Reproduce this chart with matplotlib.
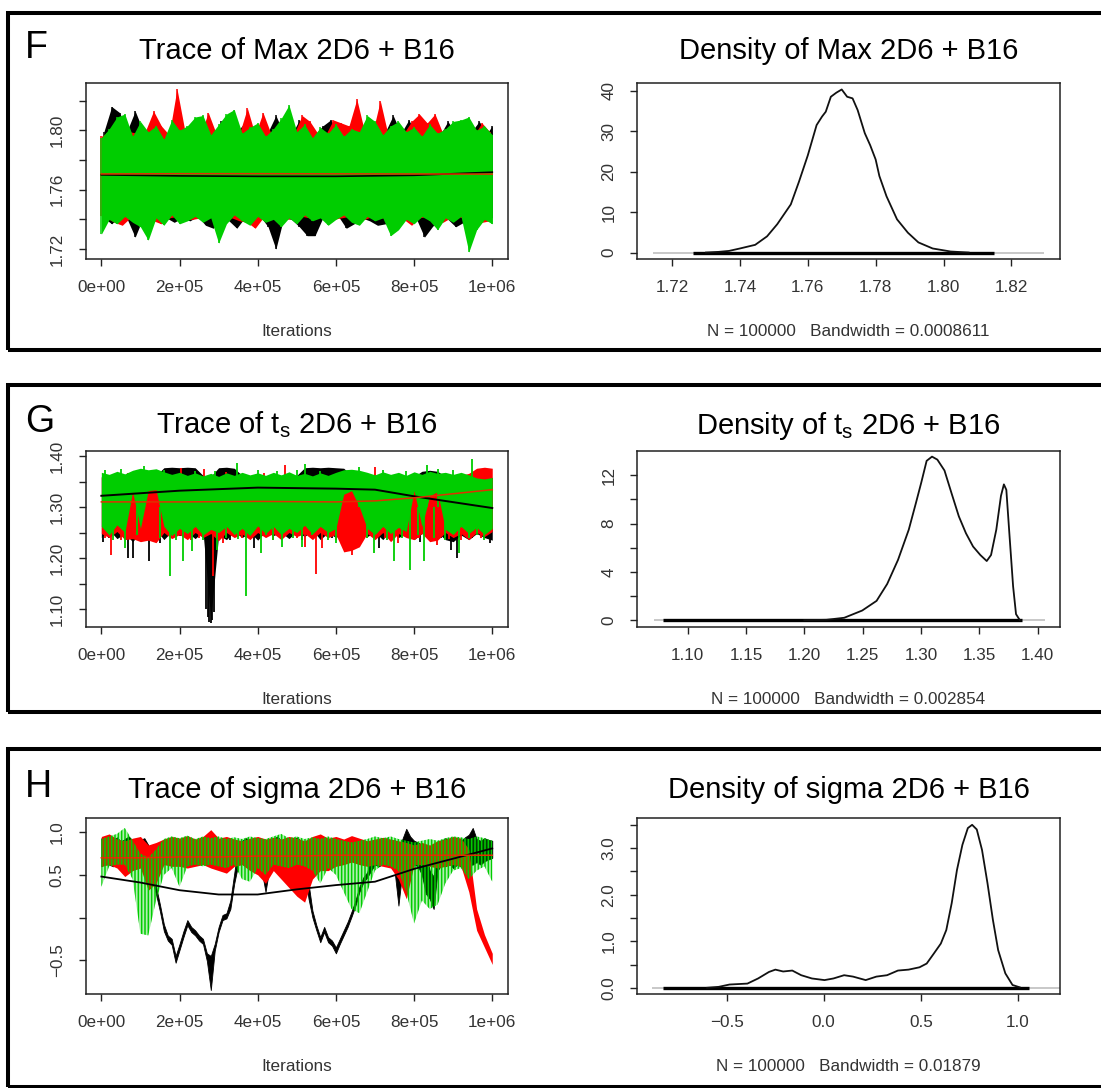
import numpy as np
import matplotlib
matplotlib.use("Agg")
import matplotlib.pyplot as plt
from matplotlib.patches import Rectangle

plt.rcParams["font.family"] = ["Liberation Sans", "DejaVu Sans"]
plt.rcParams["mathtext.fontset"] = "custom"
plt.rcParams["mathtext.rm"] = "Liberation Sans"
plt.rcParams["hatch.linewidth"] = 1.1

# ---------------------------------------------------------------- data
CHAIN_COLORS = ["#000000", "#ff0000", "#00cd00"]   # chains 1, 2, 3

# thinning grids (iterations) used for the chain envelopes
iters20 = np.arange(0, 1_000_001, 20_000)
iters10 = np.arange(0, 1_000_001, 10_000)
iters100 = np.arange(0, 1_000_001, 100_000)

# --- F: Max 2D6 + B16, per-chain extremes within each 20k window
f_black_hi = [1.799, 1.816, 1.812, 1.800, 1.813, 1.800, 1.797, 1.799, 1.796, 1.798,
              1.797, 1.799, 1.796, 1.798, 1.797, 1.806, 1.797, 1.799, 1.805, 1.798,
              1.797, 1.799, 1.810, 1.798, 1.797, 1.807, 1.799, 1.797, 1.803, 1.807,
              1.799, 1.798, 1.797, 1.799, 1.798, 1.797, 1.799, 1.810, 1.798, 1.807,
              1.797, 1.799, 1.798, 1.797, 1.806, 1.798, 1.797, 1.799, 1.806, 1.798, 1.803]
f_black_lo = [1.741, 1.737, 1.742, 1.740, 1.728, 1.741, 1.740, 1.742, 1.741, 1.738,
              1.741, 1.739, 1.742, 1.736, 1.734, 1.741, 1.739, 1.734, 1.741, 1.740,
              1.742, 1.735, 1.720, 1.741, 1.740, 1.735, 1.729, 1.729, 1.741, 1.740,
              1.742, 1.734, 1.737, 1.741, 1.739, 1.736, 1.737, 1.741, 1.740, 1.742,
              1.740, 1.728, 1.735, 1.741, 1.740, 1.735, 1.738, 1.741, 1.740, 1.742, 1.741]
f_red_hi = [1.796, 1.798, 1.800, 1.797, 1.799, 1.798, 1.800, 1.813, 1.803, 1.797,
            1.828, 1.800, 1.798, 1.797, 1.812, 1.798, 1.797, 1.799, 1.798, 1.815,
            1.797, 1.812, 1.798, 1.799, 1.797, 1.798, 1.810, 1.806, 1.798, 1.797,
            1.807, 1.805, 1.803, 1.821, 1.799, 1.798, 1.820, 1.797, 1.799, 1.798,
            1.806, 1.811, 1.805, 1.811, 1.798, 1.797, 1.799, 1.798, 1.797, 1.805, 1.799]
f_red_lo = [1.742, 1.741, 1.738, 1.736, 1.741, 1.742, 1.740, 1.739, 1.737, 1.741,
            1.742, 1.740, 1.740, 1.741, 1.742, 1.741, 1.738, 1.741, 1.739, 1.738,
            1.734, 1.741, 1.742, 1.740, 1.740, 1.741, 1.742, 1.741, 1.742, 1.741,
            1.740, 1.741, 1.742, 1.741, 1.740, 1.742, 1.741, 1.741, 1.742, 1.740,
            1.736, 1.741, 1.742, 1.741, 1.738, 1.741, 1.742, 1.740, 1.741, 1.738, 1.739]
f_green_hi = [1.795, 1.801, 1.809, 1.811, 1.796, 1.806, 1.799, 1.803, 1.794, 1.807,
              1.800, 1.803, 1.809, 1.810, 1.797, 1.804, 1.811, 1.814, 1.798, 1.802,
              1.805, 1.796, 1.801, 1.808, 1.817, 1.799, 1.804, 1.795, 1.802, 1.798,
              1.804, 1.796, 1.801, 1.799, 1.810, 1.806, 1.797, 1.803, 1.806, 1.799,
              1.802, 1.796, 1.804, 1.798, 1.801, 1.806, 1.807, 1.809, 1.800, 1.803, 1.797]
f_green_lo = [1.730, 1.740, 1.737, 1.742, 1.738, 1.735, 1.726, 1.741, 1.736, 1.743,
              1.737, 1.739, 1.742, 1.738, 1.741, 1.724, 1.737, 1.743, 1.739, 1.736,
              1.742, 1.738, 1.740, 1.735, 1.741, 1.737, 1.743, 1.739, 1.741, 1.736,
              1.740, 1.743, 1.738, 1.736, 1.742, 1.739, 1.741, 1.729, 1.733, 1.740,
              1.737, 1.742, 1.739, 1.733, 1.741, 1.738, 1.742, 1.718, 1.733, 1.740, 1.737]
# lowess smooths (chains 1 and 2) at 200k steps
f_smooth_x = [0, 200_000, 400_000, 600_000, 800_000, 1_000_000]
f_smooth_black = [1.7700, 1.7693, 1.7690, 1.7690, 1.7697, 1.7718]
f_smooth_red = [1.7706, 1.7708, 1.7708, 1.7707, 1.7706, 1.7705]

# --- G: t_s 2D6 + B16, body of each chain (20k windows) plus isolated excursions
g_black_top = [1.360, 1.362, 1.358, 1.360, 1.362, 1.360, 1.358, 1.362, 1.377, 1.378,
               1.377, 1.378, 1.377, 1.362, 1.360, 1.377, 1.378, 1.376, 1.362, 1.360,
               1.362, 1.358, 1.360, 1.362, 1.360, 1.362, 1.377, 1.378, 1.377, 1.378,
               1.377, 1.376, 1.362, 1.360, 1.358, 1.362, 1.360, 1.358, 1.360, 1.362,
               1.360, 1.370, 1.372, 1.370, 1.360, 1.358, 1.360, 1.362, 1.358, 1.360, 1.358]
g_black_bot = [1.240, 1.255, 1.238, 1.248, 1.232, 1.250, 1.242, 1.255, 1.236, 1.252,
               1.244, 1.250, 1.238, 1.252, 1.080, 1.245, 1.236, 1.252, 1.240, 1.250,
               1.235, 1.252, 1.244, 1.250, 1.238, 1.252, 1.242, 1.255, 1.236, 1.250,
               1.240, 1.250, 1.236, 1.255, 1.242, 1.250, 1.236, 1.255, 1.240, 1.248,
               1.236, 1.248, 1.242, 1.250, 1.236, 1.232, 1.245, 1.236, 1.248, 1.240, 1.235]
g_red_top = [1.358, 1.360, 1.356, 1.358, 1.350, 1.352, 1.350, 1.350, 1.358, 1.360,
             1.356, 1.358, 1.360, 1.358, 1.356, 1.360, 1.358, 1.356, 1.358, 1.360,
             1.358, 1.356, 1.358, 1.360, 1.358, 1.356, 1.358, 1.360, 1.358, 1.356,
             1.358, 1.345, 1.340, 1.345, 1.358, 1.360, 1.356, 1.358, 1.360, 1.358,
             1.345, 1.356, 1.345, 1.350, 1.358, 1.360, 1.362, 1.366, 1.376, 1.378, 1.376]
g_red_bot = [1.248, 1.240, 1.252, 1.236, 1.238, 1.232, 1.235, 1.230, 1.250, 1.238,
             1.246, 1.236, 1.250, 1.240, 1.248, 1.234, 1.250, 1.240, 1.247, 1.236,
             1.250, 1.240, 1.248, 1.236, 1.250, 1.242, 1.248, 1.236, 1.250, 1.240,
             1.246, 1.212, 1.215, 1.222, 1.248, 1.236, 1.250, 1.232, 1.248, 1.240,
             1.236, 1.248, 1.232, 1.235, 1.250, 1.240, 1.248, 1.236, 1.250, 1.242, 1.252]
g_green_top = [1.368, 1.364, 1.370, 1.365, 1.372, 1.376, 1.373, 1.375, 1.369, 1.364,
               1.368, 1.362, 1.367, 1.361, 1.366, 1.360, 1.367, 1.362, 1.368, 1.363,
               1.367, 1.362, 1.368, 1.363, 1.369, 1.362, 1.366, 1.361, 1.367, 1.362,
               1.368, 1.373, 1.374, 1.372, 1.368, 1.363, 1.369, 1.364, 1.368, 1.362,
               1.369, 1.364, 1.370, 1.366, 1.368, 1.364, 1.368, 1.363, 1.357, 1.355, 1.358]
g_green_bot = [1.262, 1.245, 1.265, 1.250, 1.330, 1.258, 1.332, 1.334, 1.262, 1.244,
               1.258, 1.248, 1.262, 1.245, 1.256, 1.250, 1.262, 1.246, 1.258, 1.244,
               1.263, 1.248, 1.262, 1.246, 1.258, 1.250, 1.264, 1.247, 1.262, 1.250,
               1.258, 1.325, 1.332, 1.300, 1.258, 1.246, 1.262, 1.248, 1.260, 1.252,
               1.332, 1.262, 1.322, 1.330, 1.256, 1.246, 1.262, 1.248, 1.260, 1.246, 1.258]
g_black_spk_x = [3e3, 20e3, 67e3, 80e3, 112e3, 123e3, 150e3, 268e3, 272e3, 276e3, 280e3,
                 284e3, 288e3, 330e3, 390e3, 475e3, 513e3, 590e3, 710e3, 760e3, 815e3,
                 870e3, 895e3, 910e3, 948e3, 995e3]
g_black_spk_y = [1.232, 1.240, 1.200, 1.200, 1.240, 1.194, 1.230, 1.100, 1.085, 1.075, 1.072,
                 1.078, 1.095, 1.235, 1.220, 1.245, 1.235, 1.240, 1.220, 1.245, 1.232,
                 1.240, 1.215, 1.200, 1.240, 1.229]
g_red_spk_x = [10e3, 25e3, 37e3, 50e3, 67e3, 180e3, 203e3, 230e3, 250e3, 263e3, 285e3,
               310e3, 318e3, 360e3, 416e3, 440e3, 470e3, 500e3, 522e3, 548e3, 565e3,
               600e3, 641e3, 680e3, 701e3, 726e3, 760e3, 812e3, 858e3, 889e3, 920e3, 970e3]
g_red_spk_y = [1.240, 1.206, 1.367, 1.235, 1.366, 1.240, 1.376, 1.235, 1.240, 1.375, 1.164,
               1.230, 1.368, 1.240, 1.366, 1.235, 1.382, 1.240, 1.222, 1.168, 1.220,
               1.235, 1.206, 1.240, 1.378, 1.240, 1.230, 1.240, 1.225, 1.238, 1.235, 1.240]
g_green_spk_x = [10e3, 30e3, 50e3, 60e3, 90e3, 110e3, 150e3, 160e3, 176e3, 190e3, 210e3,
                 233e3, 240e3, 260e3, 290e3, 297e3, 320e3, 347e3, 350e3, 370e3, 400e3,
                 408e3, 420e3, 440e3, 450e3, 462e3, 490e3, 500e3, 513e3, 522e3, 540e3,
                 560e3, 580e3, 600e3, 660e3, 680e3, 697e3, 720e3, 730e3, 748e3, 770e3,
                 780e3, 790e3, 810e3, 825e3, 833e3, 850e3, 860e3, 880e3, 900e3, 914e3,
                 940e3, 948e3, 960e3, 980e3]
g_green_spk_y = [1.372, 1.235, 1.374, 1.220, 1.245, 1.380, 1.240, 1.372, 1.164, 1.235, 1.194,
                 1.213, 1.370, 1.235, 1.371, 1.215, 1.240, 1.387, 1.238, 1.125, 1.372,
                 1.210, 1.245, 1.235, 1.370, 1.222, 1.240, 1.373, 1.222, 1.385, 1.245,
                 1.371, 1.235, 1.230, 1.378, 1.240, 1.210, 1.372, 1.235, 1.195, 1.240,
                 1.371, 1.177, 1.245, 1.195, 1.382, 1.240, 1.374, 1.235, 1.372, 1.210,
                 1.240, 1.395, 1.245, 1.235]
g_smooth_x = [0, 200_000, 400_000, 600_000, 700_000, 800_000, 1_000_000]
g_smooth_black = [1.322, 1.332, 1.338, 1.336, 1.334, 1.321, 1.298]
g_smooth_red = [1.310, 1.310, 1.311, 1.310, 1.312, 1.318, 1.334]

# --- H: sigma 2D6 + B16
h_black_top = [0.93, 0.88, 0.92, 0.90, 0.94, 0.89, 0.92, 0.95, 0.90, 0.88,
               0.91, 0.93, 0.85, 0.75, 0.36, 0.15, -0.08, -0.21, -0.25, -0.45,
               -0.31, -0.16, -0.03, -0.11, -0.15, -0.21, -0.25, -0.42, -0.45, -0.31,
               -0.11, 0.03, 0.05, 0.20, 0.52, 0.85, 0.90, 0.93, 0.91, 0.89,
               0.92, 0.86, 0.80, 0.88, 0.92, 0.95, 0.90, 0.88, 0.93, 0.91,
               0.94, 0.90, 0.88, 0.40, 0.08, -0.09, -0.23, -0.11, -0.23, -0.27,
               -0.35, -0.25, -0.15, -0.05, 0.07, 0.20, 0.36, 0.47, 0.53, 0.70,
               0.88, 0.92, 0.90, 0.93, 0.89, 0.91, 0.80, 0.92, 1.04, 0.95,
               0.90, 0.88, 0.85, 0.75, 0.55, 0.48, 0.80, 0.90, 0.93, 0.91,
               0.88, 0.92, 0.90, 0.94, 0.97, 1.05, 0.92, 0.90, 0.93, 0.91, 0.90]
h_black_bot = [0.60, 0.63, 0.62, 0.60, 0.64, 0.62, 0.60, 0.63, 0.62, 0.60,
               0.63, 0.60, 0.58, 0.45, 0.27, 0.07, -0.16, -0.27, -0.32, -0.53,
               -0.38, -0.23, -0.09, -0.17, -0.21, -0.27, -0.31, -0.51, -0.85, -0.39,
               -0.17, -0.03, -0.01, 0.10, 0.40, 0.62, 0.63, 0.60, 0.62, 0.60,
               0.63, 0.55, 0.30, 0.58, 0.62, 0.63, 0.60, 0.50, 0.62, 0.60,
               0.63, 0.62, 0.55, 0.22, 0.00, -0.15, -0.29, -0.17, -0.29, -0.33,
               -0.42, -0.31, -0.21, -0.11, 0.01, 0.14, 0.30, 0.41, 0.47, 0.55,
               0.62, 0.60, 0.63, 0.62, 0.60, 0.55, 0.14, 0.55, 0.70, 0.65,
               0.62, 0.60, 0.50, 0.28, 0.22, 0.10, 0.55, 0.62, 0.60, 0.63,
               0.58, 0.62, 0.60, 0.63, 0.62, 0.62, 0.65, 0.62, 0.66, 0.68, 0.70]
h_red_top = [0.95, 0.98, 0.92, 0.90, 0.93, 0.95, 0.85, 0.88, 0.92, 0.95,
             0.93, 0.96, 0.92, 0.95, 1.03, 0.93, 0.95, 0.92, 0.90, 0.93,
             0.95, 0.92, 0.94, 0.92, 0.95, 0.93, 0.90, 0.95, 0.98, 0.93,
             0.95, 0.92, 0.96, 0.93, 0.90, 0.92, 0.94, 0.92, 0.90, 0.88,
             0.85, 0.88, 0.85, 0.90, 0.92, 0.95, 0.93, 0.80, 0.10, -0.20, -0.42]
h_red_bot = [0.60, 0.62, 0.58, 0.48, 0.55, 0.58, 0.32, 0.40, 0.62, 0.60,
             0.60, 0.58, 0.60, 0.62, 0.58, 0.55, 0.52, 0.60, 0.62, 0.55,
             0.50, 0.40, 0.55, 0.45, 0.35, 0.25, 0.18, 0.45, 0.55, 0.55,
             0.60, 0.62, 0.65, 0.62, 0.60, 0.62, 0.60, 0.58, 0.45, 0.22,
             0.62, 0.62, 0.60, 0.58, 0.60, 0.62, 0.60, 0.30, -0.15, -0.35, -0.55]
h_green_top = [0.92, 0.95, 0.98, 1.05, 0.90, 0.75, 0.70, 0.80, 0.92, 0.95,
               0.93, 0.96, 0.92, 0.95, 0.93, 0.95, 0.92, 0.94, 0.92, 0.95,
               0.93, 0.92, 0.95, 0.98, 0.93, 0.95, 0.92, 0.94, 0.92, 0.95,
               0.92, 0.90, 0.88, 0.90, 0.92, 0.95, 0.93, 0.95, 0.92, 0.90,
               0.88, 0.90, 0.92, 0.90, 0.93, 0.95, 0.94, 0.92, 0.95, 0.93, 0.90]
h_green_bot = [0.36, 0.60, 0.62, 0.62, 0.45, -0.19, -0.21, 0.20, 0.50, 0.58,
               0.36, 0.60, 0.62, 0.60, 0.62, 0.60, 0.58, 0.62, 0.45, 0.42,
               0.58, 0.50, 0.62, 0.60, 0.58, 0.62, 0.60, 0.55, 0.40, 0.58,
               0.50, 0.30, 0.10, 0.05, 0.30, 0.55, 0.62, 0.60, 0.55, 0.30,
               -0.07, 0.20, 0.10, 0.15, 0.40, 0.55, 0.58, 0.45, 0.55, 0.60, 0.42]
h_smooth_black = [0.48, 0.41, 0.32, 0.27, 0.27, 0.33, 0.38, 0.42, 0.57, 0.69, 0.81]
h_smooth_red = [0.70, 0.70, 0.71, 0.71, 0.72, 0.72, 0.73, 0.73, 0.73, 0.73, 0.73]

# --- kernel density estimates (x, density)
f_dens_x = [1.7300, 1.7337, 1.7368, 1.7400, 1.7445, 1.7480, 1.7510, 1.7550, 1.7574, 1.7600,
            1.7626, 1.7642, 1.7653, 1.7668, 1.7684, 1.7700, 1.7716, 1.7732, 1.7747, 1.7768,
            1.7784, 1.7800, 1.7811, 1.7832, 1.7863, 1.7895, 1.7926, 1.7968, 1.8021, 1.8074]
f_dens_y = [0.0, 0.16, 0.4, 1.0, 1.9, 4.0, 7.0, 11.9, 17.5, 24.0,
            31.5, 33.6, 34.8, 38.5, 39.5, 40.3, 38.5, 38.1, 35.2, 29.5,
            26.5, 23.0, 18.9, 13.9, 8.2, 4.9, 2.5, 1.0, 0.25, 0.0]
g_dens_x = [1.2000, 1.2189, 1.2342, 1.2496, 1.2619, 1.2710, 1.2803, 1.2895, 1.2956, 1.3002,
            1.3048, 1.3094, 1.3140, 1.3201, 1.3262, 1.3324, 1.3385, 1.3446, 1.3508, 1.3563,
            1.3600, 1.3645, 1.3685, 1.3710, 1.3731, 1.3759, 1.3789, 1.3814, 1.3845]
g_dens_y = [0.0, 0.03, 0.2, 0.8, 1.6, 3.0, 5.0, 7.5, 9.7, 11.4,
            13.2, 13.55, 13.3, 12.4, 10.5, 8.6, 7.2, 6.1, 5.4, 4.9,
            5.4, 7.5, 10.3, 11.25, 10.8, 6.9, 2.8, 0.5, 0.03]
h_dens_x = [-0.600, -0.541, -0.485, -0.393, -0.338, -0.282, -0.249, -0.209, -0.162, -0.116,
            -0.061, 0.004, 0.050, 0.105, 0.151, 0.216, 0.271, 0.326, 0.382, 0.437,
            0.493, 0.530, 0.566, 0.603, 0.631, 0.659, 0.686, 0.714, 0.742, 0.764,
            0.788, 0.815, 0.843, 0.871, 0.898, 0.935, 0.972, 1.009]
h_dens_y = [0.0, 0.02, 0.07, 0.09, 0.20, 0.34, 0.39, 0.35, 0.37, 0.27,
            0.20, 0.165, 0.20, 0.27, 0.24, 0.165, 0.24, 0.27, 0.37, 0.39,
            0.44, 0.52, 0.73, 0.95, 1.24, 1.82, 2.53, 3.07, 3.43, 3.50,
            3.40, 2.96, 2.25, 1.46, 0.81, 0.31, 0.06, 0.01]
# sample range (rug) and full evaluation range of each density
f_rug, f_grid = (1.7263, 1.8149), (1.7145, 1.8295)
g_rug, g_grid = (1.0791, 1.3862), (1.0709, 1.4062)
h_rug, h_grid = (-0.826, 1.055), (-0.882, 1.216)

# ---------------------------------------------------------------- figure
W, H = 1101, 1088
fig = plt.figure(figsize=(W / 100, H / 100), dpi=100)
fig.patch.set_facecolor("white")

TXT = "#333333"
AXC = "#222222"


def ax_at(left, top, right, bottom):
    return fig.add_axes([left / W, 1 - bottom / H, (right - left) / W, (bottom - top) / H])


def text_at(x, y, s, **kw):
    fig.text(x / W, 1 - y / H, s, **kw)


def style(ax, xlim, ylim, xt, xl, yt, yl):
    ax.set_xlim(*xlim)
    ax.set_ylim(*ylim)
    ax.set_xticks(xt, xl)
    ax.set_yticks(yt, yl)
    for lab in ax.get_yticklabels():
        lab.set_rotation(90)
        lab.set_va("center")
    ax.tick_params(direction="out", length=5, width=1.0, color=AXC,
                   labelcolor=TXT, labelsize=12.3, pad=10)
    for s in ax.spines.values():
        s.set_linewidth(1.1)
        s.set_color(AXC)
        s.set_zorder(10)


TRACE_X = (85.7, 507.9)
DENS_X = (637.1, 1059.9)
ROWS = [  # axes top, axes bottom, title baseline, label baseline, footer centre
    (83.0, 259.0, 59.3, 58.0, 331.7),
    (450.7, 626.7, 433.5, 431.7, 700.0),
    (818.3, 994.3, 798.3, 796.7, 1066.7),
]
FRAMES = [(12.7, 350.0), (385.0, 711.7), (749.3, 1086.7)]
LETTERS = ["F", "G", "H"]
TRACE_TITLES = ["Trace of Max 2D6 + B16", r"Trace of $\mathregular{t_s}$ 2D6 + B16",
                "Trace of sigma 2D6 + B16"]
DENS_TITLES = ["Density of Max 2D6 + B16", r"Density of $\mathregular{t_s}$ 2D6 + B16",
               "Density of sigma 2D6 + B16"]
BANDWIDTHS = ["0.0008611", "0.002854", "0.01879"]

iter_ticks = [0, 200_000, 400_000, 600_000, 800_000, 1_000_000]
iter_labels = ["0e+00", "2e+05", "4e+05", "6e+05", "8e+05", "1e+06"]
TRACE_XLIM = (-40_000, 1_040_000)

for (top, bottom) in FRAMES:
    fig.add_artist(Rectangle((7.9 / W, 1 - bottom / H), (W + 20) / W, (bottom - top) / H,
                             transform=fig.transFigure, fill=False, lw=2.9,
                             ec="black", clip_on=False))

axes = []
for i, (top, bottom, tb, lb, fy) in enumerate(ROWS):
    at = ax_at(TRACE_X[0], top, TRACE_X[1], bottom)
    ad = ax_at(DENS_X[0], top, DENS_X[1], bottom)
    axes.append((at, ad))
    text_at(25, lb, LETTERS[i], fontsize=27, ha="left", va="baseline", color="black")
    text_at(sum(TRACE_X) / 2, tb, TRACE_TITLES[i], fontsize=21, ha="center",
            va="baseline", color="black")
    text_at(sum(DENS_X) / 2, tb, DENS_TITLES[i], fontsize=21, ha="center",
            va="baseline", color="black")
    text_at(sum(TRACE_X) / 2, fy, "Iterations", fontsize=12.3, ha="center",
            va="center", color=TXT)
    text_at(sum(DENS_X) / 2, fy, f"N = 100000   Bandwidth = {BANDWIDTHS[i]}",
            fontsize=12.3, ha="center", va="center", color=TXT)

# ---------------------------------------------------------------- F traces
ax = axes[0][0]
f_x = [np.clip(iters20 + 6_500, 0, 1_000_000),
       np.clip(iters20 - 6_500, 0, 1_000_000),
       iters20]
f_hi = [f_black_hi, f_red_hi, f_green_hi]
f_lo = [f_black_lo, f_red_lo, f_green_lo]
for k in range(3):
    ax.fill_between(f_x[k], f_lo[k], f_hi[k], color=CHAIN_COLORS[k], lw=0, zorder=2 + k)
    ax.vlines(f_x[k], f_lo[k], f_hi[k], color=CHAIN_COLORS[k], lw=1.1, zorder=2 + k)
ax.plot(f_smooth_x, f_smooth_black, color="black", lw=1.2, zorder=6)
ax.plot(f_smooth_x, f_smooth_red, color="#e03000", lw=1.1, zorder=6)
style(ax, TRACE_XLIM, (1.7133, 1.8319), iter_ticks, iter_labels,
      [1.72, 1.74, 1.76, 1.78, 1.80, 1.82], ["1.72", "", "1.76", "", "1.80", ""])

# ---------------------------------------------------------------- G traces
ax = axes[1][0]
G_MID = 1.30
g_bodies = [(g_black_bot, g_black_top), (g_red_bot, g_red_top), (g_green_bot, g_green_top)]
g_spikes = [(g_black_spk_x, g_black_spk_y), (g_red_spk_x, g_red_spk_y),
            (g_green_spk_x, g_green_spk_y)]
for k in range(3):
    ax.fill_between(iters20, g_bodies[k][0], g_bodies[k][1], color=CHAIN_COLORS[k], lw=0,
                    zorder=2 + k)
    ax.vlines(g_spikes[k][0], g_spikes[k][1], G_MID, color=CHAIN_COLORS[k], lw=1.3,
              zorder=2 + k)
ax.plot(g_smooth_x, g_smooth_black, color="black", lw=1.4, zorder=6)
ax.plot(g_smooth_x, g_smooth_red, color="#e03000", lw=1.1, zorder=6)
style(ax, TRACE_XLIM, (1.0653, 1.4104), iter_ticks, iter_labels,
      [1.10, 1.15, 1.20, 1.25, 1.30, 1.35, 1.40],
      ["1.10", "", "1.20", "", "1.30", "", "1.40"])

# ---------------------------------------------------------------- H traces
ax = axes[2][0]
ax.fill_between(iters10, h_black_bot, h_black_top, color="black", lw=0.6, edgecolor="black",
                zorder=2)
ax.fill_between(iters20, h_red_bot, h_red_top, color="#ff0000", lw=0, zorder=3)
# chain 3 is drawn dotted, so it reads as a speckled, lighter layer
ax.fill_between(iters20, h_green_bot, h_green_top, facecolor=(0.0, 0.80, 0.0, 0.30),
                edgecolor="#00cd00", hatch="|||||", lw=0, zorder=4)
ax.plot(iters100, h_smooth_black, color="black", lw=1.3, zorder=6)
ax.plot(iters100, h_smooth_red, color="#e03000", lw=1.1, zorder=6)
style(ax, TRACE_XLIM, (-0.9, 1.163), iter_ticks, iter_labels,
      [-0.5, 0.0, 0.5, 1.0], ["\u22120.5", "", "0.5", "1.0"])

# ---------------------------------------------------------------- densities
dens = [
    (f_dens_x, f_dens_y, f_rug, f_grid, (1.7097, 1.8343), (-1.6, 41.9),
     [1.72, 1.74, 1.76, 1.78, 1.80, 1.82], ["1.72", "1.74", "1.76", "1.78", "1.80", "1.82"],
     [0, 10, 20, 30, 40], ["0", "10", "20", "30", "40"]),
    (g_dens_x, g_dens_y, g_rug, g_grid, (1.0567, 1.419), (-0.54, 14.04),
     [1.10, 1.15, 1.20, 1.25, 1.30, 1.35, 1.40],
     ["1.10", "1.15", "1.20", "1.25", "1.30", "1.35", "1.40"],
     [0, 2, 4, 6, 8, 10, 12], ["0", "", "4", "", "8", "", "12"]),
    (h_dens_x, h_dens_y, h_rug, h_grid, (-0.961, 1.216), (-0.14, 3.64),
     [-0.5, 0.0, 0.5, 1.0], ["\u22120.5", "0.0", "0.5", "1.0"],
     [0, 0.5, 1.0, 1.5, 2.0, 2.5, 3.0, 3.5], ["0.0", "", "1.0", "", "2.0", "", "3.0", ""]),
]
for i, (dx, dy, rug, grid, xl, yl, xt, xtl, yt, ytl) in enumerate(dens):
    ax = axes[i][1]
    ax.plot(grid, [0, 0], color="#c8c8c8", lw=1.4, solid_capstyle="butt")
    ax.plot(rug, [0, 0], color="black", lw=2.4, solid_capstyle="butt")
    ax.plot(dx, dy, color="#111111", lw=1.3)
    style(ax, xl, yl, xt, xtl, yt, ytl)

fig.savefig("out.png", dpi=100)
